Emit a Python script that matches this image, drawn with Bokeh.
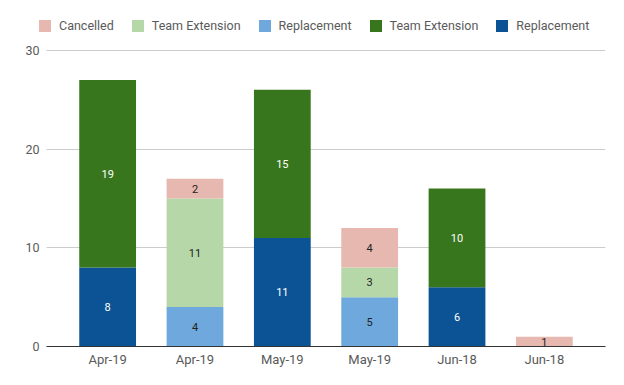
import math
from bokeh.plotting import figure
from bokeh.models import Range1d, Legend, LegendItem, ColumnDataSource, FixedTicker
from bokeh.core.properties import value
from bokeh.embed import file_html
from bokeh.resources import INLINE

nan = float("nan")

categories = ["Apr-19", "Apr-19", "May-19", "May-19", "Jun-18", "Jun-18"]
replacement_dark = [8, nan, 11, nan, 6, nan]
team_extension_dark = [19, nan, 15, nan, 10, nan]
replacement_light = [nan, 4, nan, 5, nan, nan]
team_extension_light = [nan, 11, nan, 3, nan, 0]
cancelled = [nan, 2, nan, 4, nan, 1]
y_ticks = [0, 10, 20, 30]

series = [
    ("Replacement", replacement_dark, "#0b5394", "white"),
    ("Team Extension", team_extension_dark, "#38761d", "white"),
    ("Replacement", replacement_light, "#6fa8dc", "#222222"),
    ("Team Extension", team_extension_light, "#b6d7a8", "#222222"),
    ("Cancelled", cancelled, "#e6b8af", "#222222"),
]
legend_order = [4, 3, 2, 1, 0]

FONT = "Roboto"
LABEL_COLOR = "#5a5a5a"

# layout (pixels): plot area 46..605 x 50..347 ; frame is extended up and left
W, H = 608, 369
PLOT_L, PLOT_R, PLOT_T, PLOT_B = 46, 605, 50, 347
FRAME_L, FRAME_T = 38, 8
X0, X1 = -0.7, len(categories) - 0.3
Y0, Y1 = 0, 30
px_x = (PLOT_R - PLOT_L) / (X1 - X0)
px_y = (PLOT_B - PLOT_T) / (Y1 - Y0)
x_start = X0 - (PLOT_L - FRAME_L) / px_x
y_end = Y0 + (PLOT_B - FRAME_T) / px_y

p = figure(width=W, height=H, output_backend="svg", toolbar_location=None,
           x_range=Range1d(x_start, X1), y_range=Range1d(Y0, y_end),
           min_border_left=FRAME_L, min_border_right=W - PLOT_R, min_border_top=FRAME_T,
           min_border_bottom=H - PLOT_B)
p.outline_line_color = None
p.background_fill_color = "white"
p.border_fill_color = "white"

xs = list(range(len(categories)))
bottoms = [0.0] * len(categories)
renderers = []
for name, vals, color, tcolor in series:
    bx, bb, bt, lx, ly, lt = [], [], [], [], [], []
    for i, v in enumerate(vals):
        if v is None or (isinstance(v, float) and math.isnan(v)):
            continue
        b = bottoms[i]
        t = b + v
        bx.append(xs[i]); bb.append(b); bt.append(t)
        lx.append(xs[i]); ly.append((b + t) / 2); lt.append(str(v))
        bottoms[i] = t
    src = ColumnDataSource(dict(x=bx, bottom=bb, top=bt))
    r = p.vbar(x="x", bottom="bottom", top="top", width=0.65, source=src,
               fill_color=color, line_color=None)
    renderers.append(r)
    lsrc = ColumnDataSource(dict(x=lx, y=ly, t=lt))
    p.text(x="x", y="y", text="t", source=lsrc, text_align="center", text_baseline="middle",
           text_font=value(FONT), text_font_size="11px", text_color=tcolor)

# axes
p.xaxis.ticker = FixedTicker(ticks=xs)
p.xaxis.bounds = (X0, X1)
p.xaxis.major_label_overrides = {i: c for i, c in enumerate(categories)}
p.xaxis.axis_line_color = "#333333"
p.xaxis.major_tick_line_color = None
p.xaxis.minor_tick_line_color = None
p.xaxis.major_tick_out = 0
p.xaxis.minor_tick_out = 0
p.xaxis.major_label_text_font = FONT
p.xaxis.major_label_text_font_size = "13px"
p.xaxis.major_label_text_color = LABEL_COLOR
p.xaxis.major_label_standoff = 5

p.yaxis.ticker = FixedTicker(ticks=y_ticks)
p.yaxis.bounds = (Y0, Y1)
p.yaxis.axis_line_color = None
p.yaxis.major_tick_line_color = None
p.yaxis.minor_tick_line_color = None
p.yaxis.major_tick_out = 0
p.yaxis.minor_tick_out = 0
p.yaxis.major_label_text_font = FONT
p.yaxis.major_label_text_font_size = "12.5px"
p.yaxis.major_label_text_color = LABEL_COLOR
p.yaxis.major_label_standoff = -1

p.xgrid.grid_line_color = None
p.ygrid.ticker = FixedTicker(ticks=y_ticks)
p.ygrid.cross_bounds = (X0, X1)
p.ygrid.grid_line_color = "#cccccc"

items = [LegendItem(label=series[k][0], renderers=[renderers[k]]) for k in legend_order]
legend = Legend(items=items, orientation="horizontal", location=(-1, 313),
                glyph_width=15, glyph_height=15, label_standoff=7, spacing=16,
                label_text_font=FONT, label_text_font_size="12.5px", label_text_color=LABEL_COLOR,
                padding=0, margin=0, border_line_color=None, background_fill_alpha=0)
p.add_layout(legend, "center")

open("out.html", "w").write(file_html(p, INLINE))
